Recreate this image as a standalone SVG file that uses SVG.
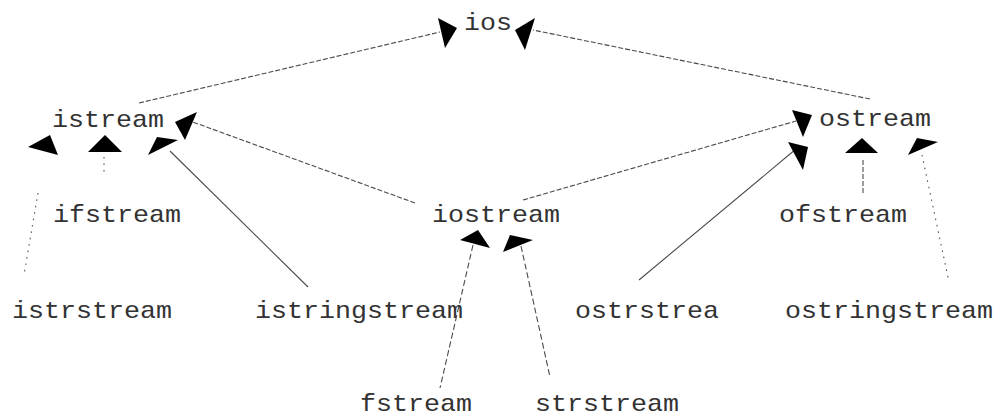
<svg xmlns="http://www.w3.org/2000/svg" width="997" height="418" viewBox="0 0 997 418">
<style>
text{font-family:"Liberation Mono","Courier New",monospace;font-size:24px;fill:#333}
.c line{stroke:#4a4a4a;stroke-width:1.1;fill:none}
.d{stroke-dasharray:5,2}
.l{stroke-dasharray:6,3}
.p{stroke-dasharray:1.5,5}
.c polygon{fill:#000}
</style>
<rect width="997" height="418" fill="#fff"/>
<g id="connectors" class="c">
<line class="d" x1="139" y1="103" x2="440" y2="32"/>
<polygon points="438,18 457,28 445,48"/>
<line class="d" x1="870" y1="99" x2="533" y2="30"/>
<polygon points="535,18 515,30 525,50"/>
<line class="d" x1="415" y1="203" x2="190" y2="121"/>
<polygon points="175,122 197,112 185,140"/>
<line class="d" x1="523" y1="200" x2="796" y2="121"/>
<polygon points="792,110 812,115 803,137"/>
<line x1="639" y1="280" x2="796" y2="149"/>
<polygon points="788,142 808,147 803,170"/>
<line class="d" x1="863" y1="160" x2="863" y2="195"/>
<polygon points="845,153 862,138 878,153"/>
<line class="p" x1="922" y1="155" x2="949" y2="282"/>
<polygon points="908,155 917,138 938,142"/>
<line class="p" x1="104" y1="157" x2="104" y2="173"/>
<polygon points="88,152 105,135 122,152"/>
<line class="p" x1="38" y1="193" x2="24" y2="275"/>
<polygon points="28,147 50,135 58,155"/>
<line x1="170" y1="151" x2="308" y2="287"/>
<polygon points="148,155 157,137 178,140"/>
<line class="l" x1="473" y1="245" x2="440" y2="388"/>
<polygon points="460,240 478,230 490,248"/>
<line class="l" x1="521" y1="246" x2="550" y2="377"/>
<polygon points="503,252 510,235 533,240"/>
</g>
<g id="ios"><text x="464" y="30" textLength="48" lengthAdjust="spacingAndGlyphs">ios</text></g>
<g id="istream"><text x="52" y="127" textLength="112" lengthAdjust="spacingAndGlyphs">istream</text></g>
<g id="ostream"><text x="819" y="126" textLength="112" lengthAdjust="spacingAndGlyphs">ostream</text></g>
<g id="ifstream"><text x="53" y="222" textLength="128" lengthAdjust="spacingAndGlyphs">ifstream</text></g>
<g id="iostream"><text x="432" y="222" textLength="128" lengthAdjust="spacingAndGlyphs">iostream</text></g>
<g id="ofstream"><text x="779" y="222" textLength="128" lengthAdjust="spacingAndGlyphs">ofstream</text></g>
<g id="istrstream"><text x="12" y="318" textLength="160" lengthAdjust="spacingAndGlyphs">istrstream</text></g>
<g id="istringstream"><text x="255" y="318" textLength="208" lengthAdjust="spacingAndGlyphs">istringstream</text></g>
<g id="ostrstrea"><text x="575" y="318" textLength="144" lengthAdjust="spacingAndGlyphs">ostrstrea</text></g>
<g id="ostringstream"><text x="785" y="318" textLength="208" lengthAdjust="spacingAndGlyphs">ostringstream</text></g>
<g id="fstream"><text x="360" y="411" textLength="112" lengthAdjust="spacingAndGlyphs">fstream</text></g>
<g id="strstream"><text x="535" y="411" textLength="144" lengthAdjust="spacingAndGlyphs">strstream</text></g>
</svg>
